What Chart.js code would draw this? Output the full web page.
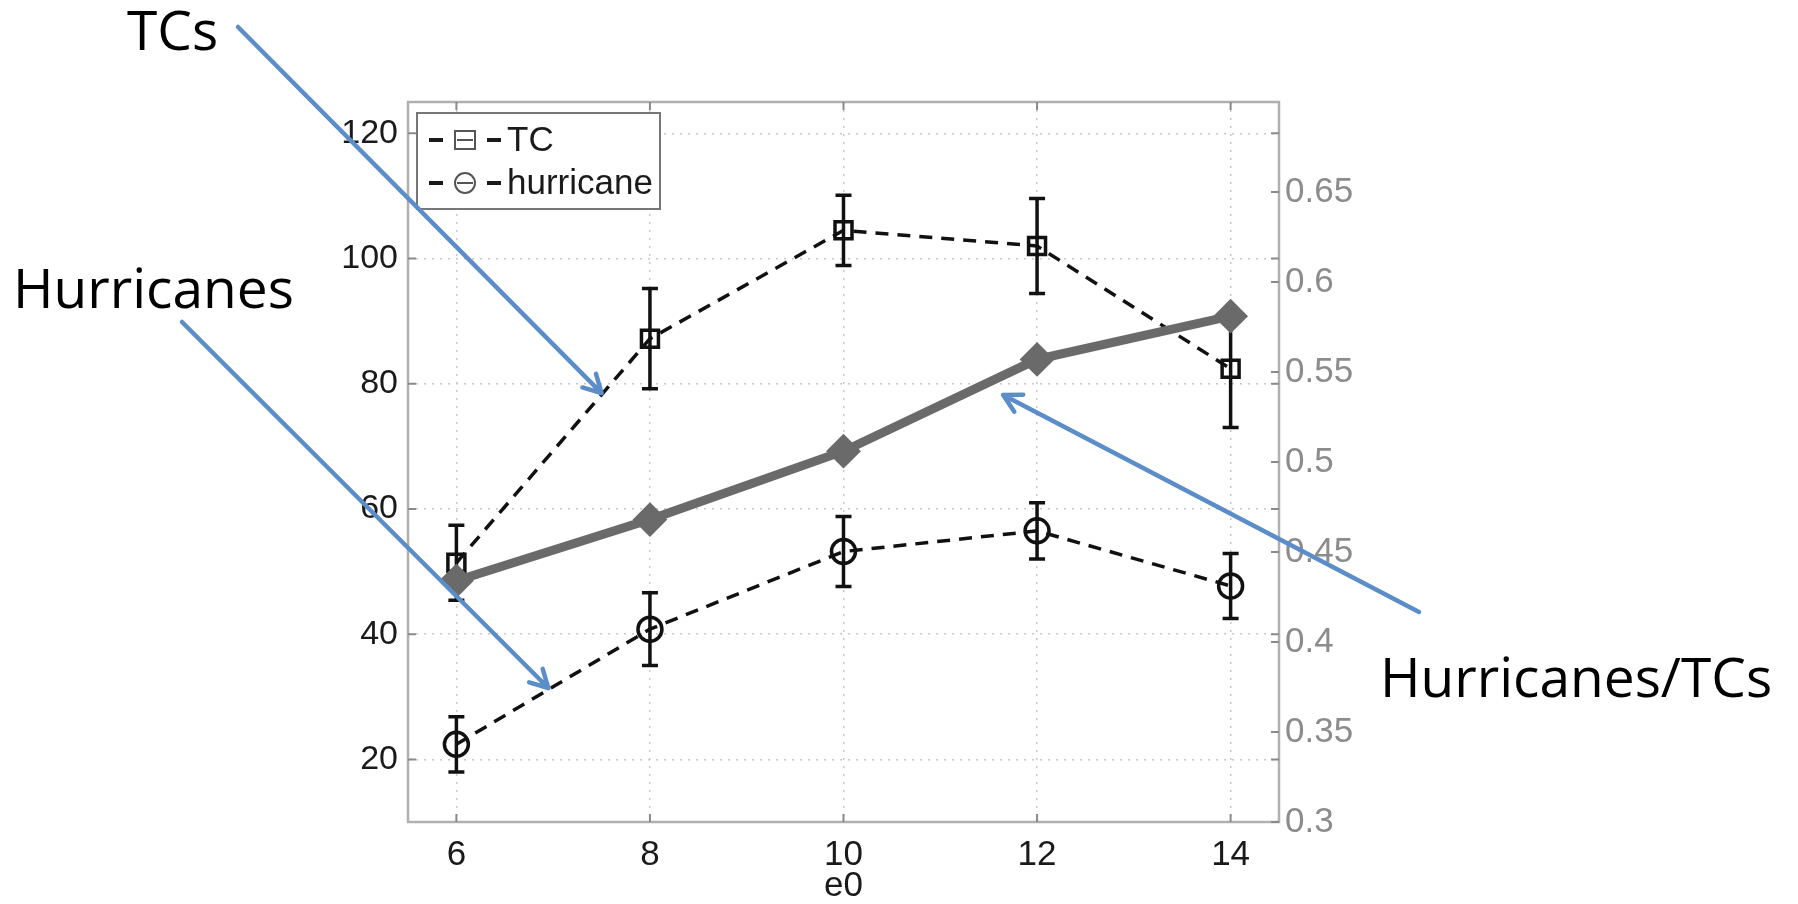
<!DOCTYPE html>
<html>
<head>
<meta charset="utf-8">
<script src="https://cdn.jsdelivr.net/npm/chart.js@4.4.0/dist/chart.umd.min.js"></script>
<style>
  html, body { margin: 0; padding: 0; background: #fff; overflow: hidden; }
</style>
</head>
<body>
<canvas id="chart" width="1798" height="904"></canvas>
<script>
// values
const e0 = [6, 8, 10, 12, 14];
const tcCount = [51.4, 87.2, 104.5, 102.0, 82.4];
const tcErr = [6.0, 8.0, 5.6, 7.6, 9.4];
const hurricaneCount = [22.4, 40.8, 53.2, 56.5, 47.7];
const hurricaneErr = [4.4, 5.8, 5.6, 4.5, 5.2];
const ratio = [0.434, 0.468, 0.506, 0.557, 0.581];

const xTicks = [6, 8, 10, 12, 14];
const leftTicks = [20, 40, 60, 80, 100, 120];
const rightTicks = [0.3, 0.35, 0.4, 0.45, 0.5, 0.55, 0.6, 0.65];
const legendNames = ["TC", "hurricane"];

// callouts: label text and where its arrow points (in data units)
const callouts = [
  { text: "TCs", tx: 127, ty: 50, from: [238, 27], to: [7.5, 78.5] },
  { text: "Hurricanes", tx: 13, ty: 308, from: [182, 322], to: [6.95, 31.4] },
  { text: "Hurricanes/TCs", tx: 1380, ty: 697, from: [1419, 612], to: [11.65, 78.2] }
];

const fam = "'Liberation Sans', Arial, sans-serif";

function pts(vals) {
  return e0.map((x, i) => ({ x, y: vals[i] }));
}

const errorBars = {
  id: "errorBars",
  beforeDatasetsDraw(chart) {
    const { ctx, scales: { x, y } } = chart;
    ctx.save();
    ctx.strokeStyle = "#111";
    ctx.lineWidth = 3.5;
    [[tcCount, tcErr], [hurricaneCount, hurricaneErr]].forEach(([vals, errs]) => {
      e0.forEach((xv, i) => {
        const px = x.getPixelForValue(xv);
        const top = y.getPixelForValue(vals[i] + errs[i]);
        const bot = y.getPixelForValue(vals[i] - errs[i]);
        ctx.beginPath();
        ctx.moveTo(px, top); ctx.lineTo(px, bot);
        ctx.moveTo(px - 8, top); ctx.lineTo(px + 8, top);
        ctx.moveTo(px - 8, bot); ctx.lineTo(px + 8, bot);
        ctx.stroke();
      });
    });
    ctx.restore();
  }
};

const frame = {
  id: "frame",
  afterDatasetsDraw(chart) {
    const { ctx, chartArea: a, scales } = chart;
    ctx.save();
    ctx.strokeStyle = "#b0b0b0";
    ctx.lineWidth = 2.5;
    ctx.strokeRect(a.left, a.top, a.right - a.left, a.bottom - a.top);
    ctx.strokeStyle = "#8a8a8a";
    ctx.lineWidth = 2;
    ctx.beginPath();
    xTicks.forEach(v => {
      const p = scales.x.getPixelForValue(v);
      ctx.moveTo(p, a.bottom); ctx.lineTo(p, a.bottom - 8);
      ctx.moveTo(p, a.top); ctx.lineTo(p, a.top + 8);
    });
    leftTicks.forEach(v => {
      const p = scales.y.getPixelForValue(v);
      ctx.moveTo(a.left, p); ctx.lineTo(a.left + 8, p);
      ctx.moveTo(a.right, p); ctx.lineTo(a.right - 8, p);
    });
    rightTicks.forEach(v => {
      const p = scales.y2.getPixelForValue(v);
      ctx.moveTo(a.right, p); ctx.lineTo(a.right - 8, p);
    });
    ctx.stroke();
    ctx.restore();
  }
};

const boxLegend = {
  id: "boxLegend",
  afterDraw(chart) {
    const { ctx, chartArea: a } = chart;
    const bx = a.left + 9, by = a.top + 11, bw = 243, bh = 96;
    ctx.save();
    ctx.fillStyle = "#fff";
    ctx.fillRect(bx, by, bw, bh);
    ctx.strokeStyle = "#777";
    ctx.lineWidth = 2;
    ctx.strokeRect(bx, by, bw, bh);
    legendNames.forEach((name, i) => {
      const cy = by + 27 + i * 43;
      const mx = bx + 48;
      ctx.strokeStyle = "#1a1a1a";
      ctx.lineWidth = 4;
      ctx.beginPath();
      ctx.moveTo(bx + 12, cy); ctx.lineTo(bx + 26, cy);
      ctx.moveTo(bx + 70, cy); ctx.lineTo(bx + 84, cy);
      ctx.stroke();
      ctx.strokeStyle = "#555";
      ctx.lineWidth = 2;
      ctx.beginPath();
      if (i === 0) {
        ctx.rect(mx - 10, cy - 9, 20, 18);
      } else {
        ctx.arc(mx, cy, 10, 0, Math.PI * 2);
      }
      ctx.moveTo(mx - 8, cy); ctx.lineTo(mx + 8, cy);
      ctx.stroke();
      ctx.fillStyle = "#1a1a1a";
      ctx.font = "35px " + fam;
      ctx.textBaseline = "middle";
      ctx.fillText(name, bx + 90, cy + 1);
    });
    ctx.restore();
  }
};

const calloutPlugin = {
  id: "callouts",
  afterDraw(chart) {
    const { ctx, scales: { x, y } } = chart;
    ctx.save();
    ctx.font = "55px 'Open Sans', sans-serif";
    ctx.fillStyle = "#000";
    ctx.textBaseline = "alphabetic";
    ctx.strokeStyle = "#5b8dc9";
    ctx.lineWidth = 4.5;
    ctx.lineCap = "round";
    ctx.lineJoin = "round";
    callouts.forEach(c => {
      ctx.fillText(c.text, c.tx, c.ty);
      const [x0, y0] = c.from;
      const x1 = x.getPixelForValue(c.to[0]);
      const y1 = y.getPixelForValue(c.to[1]);
      const ang = Math.atan2(y1 - y0, x1 - x0);
      const head = 20, spread = 0.5;
      ctx.beginPath();
      ctx.moveTo(x0, y0); ctx.lineTo(x1, y1);
      ctx.moveTo(x1 - head * Math.cos(ang - spread), y1 - head * Math.sin(ang - spread));
      ctx.lineTo(x1, y1);
      ctx.lineTo(x1 - head * Math.cos(ang + spread), y1 - head * Math.sin(ang + spread));
      ctx.stroke();
    });
    ctx.restore();
  }
};

const ctx = document.getElementById("chart").getContext("2d");

new Chart(ctx, {
  type: "line",
  data: {
    datasets: [
      {
        label: "Hurricanes/TCs",
        data: pts(ratio),
        yAxisID: "y2",
        borderColor: "#6a6a6a",
        borderWidth: 9,
        pointStyle: "rectRot",
        pointRadius: 16,
        pointBackgroundColor: "#6a6a6a",
        pointBorderColor: "#6a6a6a",
        pointBorderWidth: 2,
        tension: 0
      },
      {
        label: "TC",
        data: pts(tcCount),
        yAxisID: "y",
        borderColor: "#111",
        borderWidth: 3.5,
        borderDash: [13, 9],
        pointStyle: "rect",
        pointRadius: 12,
        pointBackgroundColor: "rgba(0,0,0,0)",
        pointBorderColor: "#111",
        pointBorderWidth: 3.5,
        tension: 0
      },
      {
        label: "hurricane",
        data: pts(hurricaneCount),
        yAxisID: "y",
        borderColor: "#111",
        borderWidth: 3.5,
        borderDash: [13, 9],
        pointStyle: "circle",
        pointRadius: 12,
        pointBackgroundColor: "rgba(0,0,0,0)",
        pointBorderColor: "#111",
        pointBorderWidth: 3.5,
        tension: 0
      }
    ]
  },
  options: {
    responsive: false,
    animation: false,
    layout: { padding: { top: 102, left: 0, right: 0, bottom: 0 } },
    plugins: {
      legend: { display: false },
      tooltip: { enabled: false }
    },
    scales: {
      x: {
        type: "linear",
        min: 5.5,
        max: 14.5,
        afterBuildTicks: s => { s.ticks = xTicks.map(v => ({ value: v })); },
        afterFit: s => { s.height = 82; },
        ticks: { color: "#1a1a1a", font: { family: fam, size: 35 }, padding: 12, maxRotation: 0, callback: v => String(v) },
        grid: { color: "#c8c8c8", lineWidth: 1.5, drawTicks: false },
        border: { display: false, dash: [2, 6] },
        title: {
          display: true,
          text: "e0",
          color: "#1a1a1a",
          font: { family: fam, size: 35, lineHeight: 1 },
          padding: 0
        }
      },
      y: {
        position: "left",
        min: 10,
        max: 125,
        afterBuildTicks: s => { s.ticks = leftTicks.map(v => ({ value: v })); },
        afterFit: s => { s.width = 408; },
        ticks: { color: "#1a1a1a", font: { family: fam, size: 34 }, padding: 10, callback: v => String(v) },
        grid: { color: "#c8c8c8", lineWidth: 1.5, drawTicks: false },
        border: { display: false, dash: [2, 6] }
      },
      y2: {
        position: "right",
        min: 0.3,
        max: 0.7,
        afterBuildTicks: s => { s.ticks = rightTicks.map(v => ({ value: v })); },
        afterFit: s => { s.width = 519; },
        ticks: { color: "#8c8c8c", font: { family: fam, size: 35 }, padding: 6, callback: v => String(v) },
        grid: { drawOnChartArea: false, drawTicks: false },
        border: { display: false }
      }
    }
  },
  plugins: [errorBars, frame, boxLegend, calloutPlugin]
});
</script>
</body>
</html>
